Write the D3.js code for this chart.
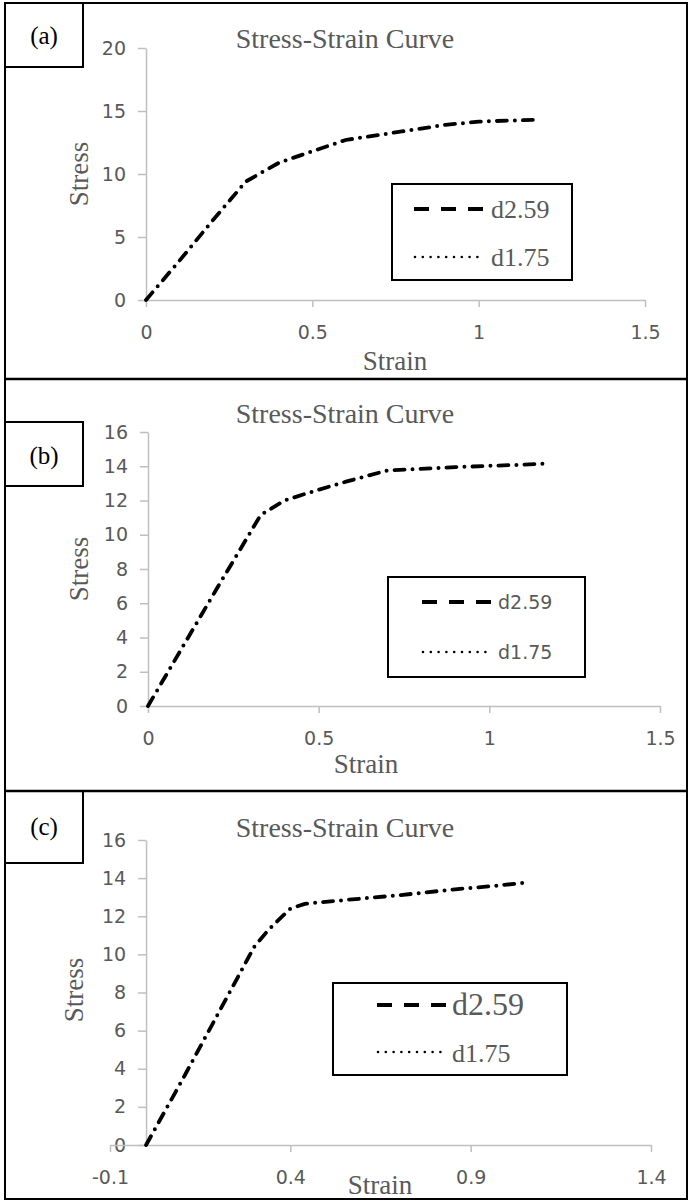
<!DOCTYPE html>
<html>
<head>
<meta charset="utf-8">
<script src="https://cdn.jsdelivr.net/npm/d3@7/dist/d3.min.js"></script>
<style>
  body { margin: 0; background: #fff; }
</style>
</head>
<body>
<svg id="chart" width="689" height="1202"></svg>
<script>

// series names (legend)
const seriesNames = ['d2.59', 'd1.75'];

// panel (a)
const strainA = [0, 0.1, 0.2, 0.3, 0.4, 0.5, 0.6, 0.7, 0.8, 0.9, 1.0, 1.1, 1.18];
const stressA259 = [0, 3.1, 6.3, 9.4, 10.9, 11.8, 12.7, 13.1, 13.5, 13.9, 14.15, 14.25, 14.3];
const stressA175 = [0, 3.1, 6.3, 9.4, 10.9, 11.8, 12.7, 13.1, 13.5, 13.9, 14.15, 14.25, 14.3];
const xTicksA = [0, 0.5, 1, 1.5];
const yTicksA = [0, 5, 10, 15, 20];

// panel (b)
const strainB = [0, 0.1, 0.2, 0.33, 0.4, 0.47, 0.58, 0.7, 0.9, 1.07, 1.16];
const stressB259 = [0, 3.4, 6.8, 11.15, 12.0, 12.45, 13.1, 13.75, 13.95, 14.07, 14.15];
const stressB175 = [0, 3.4, 6.8, 11.15, 12.0, 12.45, 13.1, 13.75, 13.95, 14.07, 14.15];
const xTicksB = [0, 0.5, 1, 1.5];
const yTicksB = [0, 2, 4, 6, 8, 10, 12, 14, 16];

// panel (c)
const strainC = [0, 0.1, 0.2, 0.3, 0.34, 0.4, 0.44, 0.55, 0.7, 0.85, 0.97, 1.045, 1.05];
const stressC259 = [0, 3.4, 6.9, 10.4, 11.3, 12.4, 12.65, 12.85, 13.1, 13.4, 13.6, 13.75, 13.45];
const stressC175 = [0, 3.4, 6.9, 10.4, 11.3, 12.4, 12.65, 12.85, 13.1, 13.4, 13.6, 13.75, 13.45];
const xTicksC = [-0.1, 0.4, 0.9, 1.4];
const yTicksC = [0, 2, 4, 6, 8, 10, 12, 14, 16];

const axisGrey = '#bfbfbf';
const textGrey = '#595959';
const serif = '"Liberation Serif", "Times New Roman", serif';
const sans = '"DejaVu Sans", sans-serif';

const panels = [
    {label: '(a)', box: [5, 3, 78, 64], labelY: 44,
     xDom: [0, 1.5], yDom: [0, 20], xRange: [146, 645], yRange: [300, 48],
     xTicks: xTicksA, yTicks: yTicksA, strain: strainA, s1: stressA259, s2: stressA175,
     titleY: 48, yTitle: [88, 174], xTitle: [395, 370],
     legend: {x: 392, y: 184, w: 180, h: 96, l1: 209, l2: 257, lx: [414, 485], tx: 491,
              t1: 218, t2: 266, font: serif, size1: 26, size2: 26}},
    {label: '(b)', box: [5, 422, 78, 64], labelY: 464,
     xDom: [0, 1.5], yDom: [0, 16], xRange: [148, 660], yRange: [706, 432],
     xTicks: xTicksB, yTicks: yTicksB, strain: strainB, s1: stressB259, s2: stressB175,
     titleY: 423, yTitle: [88, 569], xTitle: [366, 773],
     legend: {x: 388, y: 577, w: 197, h: 100, l1: 602, l2: 652, lx: [422, 492], tx: 498,
              t1: 609, t2: 659, font: sans, size1: 19, size2: 19}},
    {label: '(c)', box: [5, 791, 78, 72], labelY: 835,
     xDom: [-0.1, 1.4], yDom: [0, 16], xRange: [110, 651], yRange: [1145, 840],
     xTicks: xTicksC, yTicks: yTicksC, strain: strainC, s1: stressC259, s2: stressC175,
     titleY: 837, yTitle: [83, 990], xTitle: [380, 1194],
     legend: {x: 333, y: 983, w: 234, h: 92, l1: 1005, l2: 1052, lx: [377, 447], tx: 452,
              t1: 1015, t2: 1062, font: serif, size1: 32, size2: 26}}
];

const svg = d3.select('#chart');

function drawPanel(p) {
    const g = svg.append('g');
    const x = d3.scaleLinear().domain(p.xDom).range(p.xRange);
    const y = d3.scaleLinear().domain(p.yDom).range(p.yRange);

    const yAxis = g.append('g')
        .attr('transform', 'translate(' + x(0) + ',0)')
        .call(d3.axisLeft(y).tickValues(p.yTicks).tickSize(8).tickPadding(12)
            .tickSizeOuter(0).tickFormat(d => String(d)));
    const xAxis = g.append('g')
        .attr('transform', 'translate(0,' + y(0) + ')')
        .call(d3.axisBottom(x).tickValues(p.xTicks).tickSize(7).tickPadding(19)
            .tickSizeOuter(0).tickFormat(d => String(d)));

    [xAxis, yAxis].forEach(a => {
        a.attr('font-size', 19).attr('font-family', sans);
        a.select('.domain').attr('stroke', axisGrey).attr('stroke-width', 1.5);
        a.selectAll('.tick line').attr('stroke', axisGrey).attr('stroke-width', 1.5);
        a.selectAll('.tick text').attr('fill', textGrey)
            .style('font-family', sans).style('font-size', '19px');
    });

    // the two series lie on top of each other -> dash-dot look
    const line = d3.line().x(d => x(d[0])).y(d => y(d[1]));
    g.append('path')
        .datum(d3.zip(p.strain, p.s1))
        .attr('d', line)
        .attr('fill', 'none')
        .attr('stroke', '#000')
        .attr('stroke-width', 3.8)
        .attr('stroke-linecap', 'round')
        .attr('stroke-dasharray', '10,16');
    g.append('path')
        .datum(d3.zip(p.strain, p.s2))
        .attr('d', line)
        .attr('fill', 'none')
        .attr('stroke', '#000')
        .attr('stroke-width', 4)
        .attr('stroke-linecap', 'round')
        .attr('stroke-dasharray', '0,26')
        .attr('stroke-dashoffset', 8);

    // titles
    g.append('text')
        .attr('x', 345).attr('y', p.titleY)
        .attr('text-anchor', 'middle')
        .style('font-family', serif).style('font-size', '28px')
        .attr('fill', textGrey)
        .text('Stress-Strain Curve');
    g.append('text')
        .attr('transform', 'translate(' + p.yTitle[0] + ',' + p.yTitle[1] + ') rotate(-90)')
        .attr('text-anchor', 'middle')
        .style('font-family', serif).style('font-size', '27px')
        .attr('fill', textGrey)
        .text('Stress');
    g.append('text')
        .attr('x', p.xTitle[0]).attr('y', p.xTitle[1])
        .attr('text-anchor', 'middle')
        .style('font-family', serif).style('font-size', '27px')
        .attr('fill', textGrey)
        .text('Strain');

    // legend
    const L = p.legend;
    g.append('rect')
        .attr('x', L.x).attr('y', L.y).attr('width', L.w).attr('height', L.h)
        .attr('fill', '#fff').attr('stroke', '#000').attr('stroke-width', 2);
    g.append('line')
        .attr('x1', L.lx[0]).attr('x2', L.lx[1]).attr('y1', L.l1).attr('y2', L.l1)
        .attr('stroke', '#000').attr('stroke-width', 4)
        .attr('stroke-dasharray', '15,12');
    g.append('line')
        .attr('x1', L.lx[0] + 1).attr('x2', L.lx[1]).attr('y1', L.l2).attr('y2', L.l2)
        .attr('stroke', '#000').attr('stroke-width', 2.6)
        .attr('stroke-linecap', 'round')
        .attr('stroke-dasharray', '0,7.8');
    g.append('text')
        .attr('x', L.tx).attr('y', L.t1)
        .style('font-family', L.font).style('font-size', L.size1 + 'px')
        .attr('fill', textGrey)
        .text(seriesNames[0]);
    g.append('text')
        .attr('x', L.tx).attr('y', L.t2)
        .style('font-family', L.font).style('font-size', L.size2 + 'px')
        .attr('fill', textGrey)
        .text(seriesNames[1]);

    // panel label box
    g.append('rect')
        .attr('x', p.box[0]).attr('y', p.box[1]).attr('width', p.box[2]).attr('height', p.box[3])
        .attr('fill', '#fff').attr('stroke', '#000').attr('stroke-width', 2);
    g.append('text')
        .attr('x', p.box[0] + p.box[2] / 2).attr('y', p.labelY)
        .attr('text-anchor', 'middle')
        .style('font-family', serif).style('font-size', '25px')
        .attr('fill', '#000')
        .text(p.label);
}

panels.forEach(drawPanel);

// outer frame and separators
svg.append('rect')
    .attr('x', 5).attr('y', 3).attr('width', 682).attr('height', 1196)
    .attr('fill', 'none').attr('stroke', '#000').attr('stroke-width', 2);
[379, 791].forEach(yy => {
    svg.append('line')
        .attr('x1', 5).attr('x2', 687).attr('y1', yy).attr('y2', yy)
        .attr('stroke', '#000').attr('stroke-width', 2.5);
});

</script>
</body>
</html>
